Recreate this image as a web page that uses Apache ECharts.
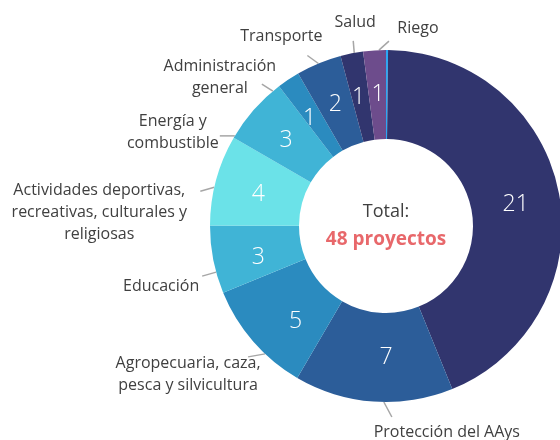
<!DOCTYPE html>
<html>
<head>
<meta charset="utf-8">
</head>
<body style="margin: 0">
<div id="container" style="width: 560px; height: 440px"></div>
<script src="https://cdn.jsdelivr.net/npm/echarts@6/dist/echarts.min.js"></script>
<script>
// categories clockwise from 12 o'clock
var names = [
    '',
    'Protección del AAys',
    'Agropecuaria, caza,\npesca y silvicultura',
    'Educación',
    'Actividades deportivas,\nrecreativas, culturales y\nreligiosas',
    'Energía y\ncombustible',
    'Administración\ngeneral',
    'Transporte',
    'Salud',
    'Riego'
];
var values = [21, 7, 5, 3, 4, 3, 1, 2, 1, 1];
var colors = ['#31356e', '#2c5d99', '#2b8bbf', '#40b4d6', '#6be2e8', '#40b4d6', '#2b8bbf', '#2c5d99', '#31356e', '#6d4c8c'];
// thin bright strip at 12 o'clock
var separatorValue = 0.09;
var separatorColor = '#2aa8f5';

var CX = 386, CY = 226, R_IN = 87, R_OUT = 176;

// angle (deg, clockwise from top) where each number sits inside the ring
var numberAt = [80.5, 180, 223.5, 256, 284, 310.5, 324.5, 337.3, 348, 356.5];

// where each outer label sits: start angle on ring, line vector, text offset from line end
var labelPlace = {
    'Riego': { at: 357.7, line: [10, -9], text: [29, -13] },
    'Salud': { at: 349.6, line: [-1, -12], text: [2, -18] },
    'Transporte': { at: 337.4, line: [-11, -8], text: [-26, -19] },
    'Administración\ngeneral': { at: 320, line: [-11, -7], text: [-42, -7] },
    'Energía y\ncombustible': { at: 300.8, line: [-15, 0], text: [-47, -3] },
    'Actividades deportivas,\nrecreativas, culturales y\nreligiosas': { at: 282.7, line: [-14, 4], text: [-101, 21] },
    'Educación': { at: 254.8, line: [-14, 4], text: [-41, 10] },
    'Agropecuaria, caza,\npesca y silvicultura': { at: 223.4, line: [-17, 3], text: [-60, 18] },
    'Protección del AAys': { at: 180.7, line: [8, 15], text: [55, 15] }
};

var total = values.reduce(function (a, b) { return a + b; }, 0);

var ringData = [{
    name: 'sep', value: separatorValue,
    itemStyle: { color: separatorColor },
    label: { show: false }
}];
for (var i = 0; i < values.length; i++) {
    ringData.push({
        name: names[i], value: values[i],
        itemStyle: { color: colors[i] }
    });
}

var outerData = ringData.map(function (d) {
    var show = !!labelPlace[d.name];
    return {
        name: d.name, value: d.value,
        label: { show: show }, labelLine: { show: show }
    };
});

var myChart = echarts.init(document.getElementById('container'));

var option = {
    backgroundColor: '#ffffff',
    animation: false,
    graphic: [{
        type: 'text', x: CX, y: 212,
        style: { text: 'Total:', fill: '#404040', font: '18px "Open Sans"', align: 'center', verticalAlign: 'middle' }
    }, {
        type: 'text', x: CX, y: 240,
        style: { text: total + ' proyectos', fill: '#e8686b', font: 'bold 19px "Open Sans"', align: 'center', verticalAlign: 'middle' }
    }],
    series: [{
        type: 'pie',
        center: [CX, CY],
        radius: [R_IN, R_OUT],
        startAngle: 90,
        clockwise: true,
        silent: true,
        data: ringData,
        label: {
            position: 'inside',
            formatter: '{c}',
            color: '#ffffff',
            fontFamily: 'Open Sans',
            fontWeight: 300,
            fontSize: 23
        },
        labelLine: { show: false },
        labelLayout: function (p) {
            var k = p.dataIndex - 1;
            if (k < 0) {
                return {};
            }
            var a = numberAt[k] * Math.PI / 180;
            var rm = (R_IN + R_OUT) / 2;
            return {
                x: CX + rm * Math.sin(a),
                y: CY - rm * Math.cos(a),
                align: 'center',
                verticalAlign: 'middle'
            };
        }
    }, {
        type: 'pie',
        center: [CX, CY],
        radius: [R_IN, R_OUT],
        startAngle: 90,
        clockwise: true,
        silent: true,
        avoidLabelOverlap: false,
        itemStyle: { color: 'rgba(0,0,0,0)' },
        data: outerData,
        label: {
            position: 'outside',
            fontFamily: 'Open Sans',
            fontSize: 16,
            lineHeight: 22,
            color: '#404040'
        },
        labelLine: {
            show: true,
            length: 12,
            length2: 0,
            lineStyle: { color: '#a6a6a6', width: 1.5 }
        },
        labelLayout: function (p) {
            var c = labelPlace[outerData[p.dataIndex].name];
            if (!c) {
                return {};
            }
            var a = c.at * Math.PI / 180;
            var sx = CX + R_OUT * Math.sin(a);
            var sy = CY - R_OUT * Math.cos(a);
            var ex = sx + c.line[0];
            var ey = sy + c.line[1];
            return {
                x: ex + c.text[0],
                y: ey + c.text[1],
                align: 'center',
                verticalAlign: 'middle',
                labelLinePoints: [[sx, sy], [ex, ey]]
            };
        }
    }]
};

myChart.setOption(option);
</script>
</body>
</html>
